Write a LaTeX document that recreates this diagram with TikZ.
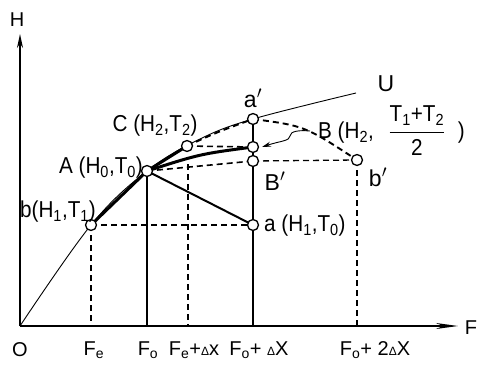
\documentclass[tikz,border=0pt]{standalone}
\usepackage{fontspec}
\usepackage{amsmath}
\setmainfont{Liberation Sans}
\usetikzlibrary{arrows.meta}
\newcommand{\nrw}[1]{\scalebox{0.9}[1]{#1}}
\begin{document}
\begin{tikzpicture}[x=1pt,y=-1pt,
  pt/.style={circle,draw,fill=white,inner sep=0pt,minimum size=11pt,line width=1.3pt},
  thickln/.style={line width=3pt},
  medln/.style={line width=1.6pt},
  thinln/.style={line width=0.9pt},
  dsh/.style={line width=1.3pt,dash pattern=on 6pt off 4pt},
  lbl/.style={inner sep=0pt,font=\fontsize{23}{26}\selectfont},
  axl/.style={inner sep=0pt,font=\fontsize{20}{22}\selectfont}]
\useasboundingbox (0,0) rectangle (482,372);
% coordinates
\coordinate (O) at (20,326);
\coordinate (Htip) at (20,34);
\coordinate (Ftip) at (458,326);
\coordinate (b) at (91,225);
\coordinate (A) at (147,171);
\coordinate (C) at (187,146);
\coordinate (ap) at (253,119);
\coordinate (B) at (253,147);
\coordinate (Bp) at (253,161);
\coordinate (a) at (253,225);
\coordinate (bp) at (357,160);
\coordinate (FeO) at (91,326);
\coordinate (FoO) at (147,326);
\coordinate (FedO) at (188,326);
\coordinate (FedT) at (188,164);
\coordinate (FodO) at (253,326);
\coordinate (Fo2O) at (357,326);
\coordinate (Bfrom) at (310,131);
% axes
\draw[medln,-{Stealth[length=14pt,width=6pt]}] (O) -- (Htip);
\draw[medln,-{Stealth[length=22pt,width=6pt]}] (O) -- (Ftip);
% curve U
\draw[thinln] plot[smooth,tension=0.6] coordinates {(20,326) (91,225) (147,171) (200,139) (253,119) (356,93)};
% dashed guides
\draw[dsh] (b) -- (FeO);
\draw[dsh] (b) -- (a);
\draw[dsh] (Bp) -- (bp);
\draw[dsh,line width=1.6pt] (bp) -- (Fo2O);
\draw[dsh,line width=1.6pt] (FedT) -- (FedO);
\draw[dsh,line width=1.6pt] (A) -- (Bp);
\draw[dsh,line width=1.6pt] (C) -- (B);
\draw[dsh,line width=1.9pt] (C) .. controls (215,133) .. (ap);
\draw[dsh,line width=1.9pt] (ap) .. controls (305,126) .. (bp);
% solid verticals
\draw[medln] (A) -- (FoO);
\draw[medln] (ap) -- (FodO);
% thick lines
\draw[thickln] (b) -- (A);
\draw[thickln] (A) -- (C);
\draw[thickln] (A) .. controls (200,154) .. (B);
\draw[line width=2pt] (A) -- (a);
% wavy arrow
\draw[thinln,-{Stealth[length=9pt,width=5pt]}] (Bfrom) .. controls (300,130) and (290,131) .. (290,136) .. controls (290,141) and (280,141) .. (262,147);
% points
\foreach \p in {b,A,C,ap,B,Bp,a,bp} \node[pt] at (\p) {};
% labels
\node[axl] at (17,20) {H};
\node[axl] at (471,328) {F};
\node[axl] at (20,350) {O};
\node[axl] at (94,350) {F\textsubscript{e}};
\node[axl] at (148,350) {F\textsubscript{o}};
\node[axl] at (194,350) {F\textsubscript{e}+{\fontsize{12}{12}\selectfont Δ}x};
\node[axl] at (259,350) {F\textsubscript{o}+ {\fontsize{12}{12}\selectfont Δ}X};
\node[axl] at (375,350) {F\textsubscript{o}+ 2{\fontsize{12}{12}\selectfont Δ}X};
\node[lbl] at (386,84) {U};
\node[lbl] at (253,98) {a$'$};
\node[lbl] at (155,126) {\nrw{C (H\textsubscript{2},T\textsubscript{2})}};
\node[lbl,anchor=east] at (143,168) {\nrw{A (H\textsubscript{0},T\textsubscript{0})}};
\node[lbl,anchor=east] at (96,212) {\nrw{b(H\textsubscript{1},T\textsubscript{1})}};
\node[lbl,anchor=west] at (264,226) {\nrw{a (H\textsubscript{1},T\textsubscript{0})}};
\node[lbl] at (275,181) {B$'$};
\node[lbl] at (378,177) {b$'$};
\node[lbl,anchor=west] at (318,131) {\nrw{B (H\textsubscript{2}, \hspace{10pt}$\genfrac{}{}{0.9pt}{0}{\text{T\textsubscript{1}+T\textsubscript{2}}}{\text{2}}$\hspace{14pt})}};
\end{tikzpicture}
\end{document}
